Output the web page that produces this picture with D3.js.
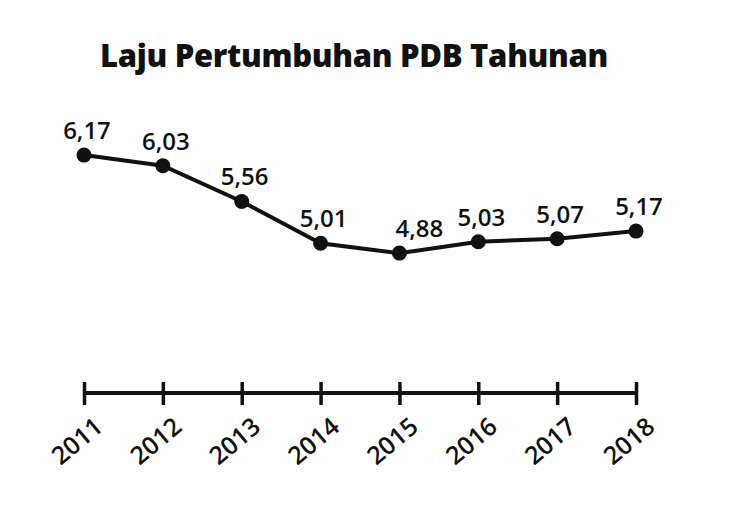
<!DOCTYPE html>
<html>
<head>
<meta charset="utf-8">
<script src="https://cdn.jsdelivr.net/npm/d3@7"></script>
<style>
  body { margin: 0; background: #fff; }
  text { font-family: "Open Sans", sans-serif; fill: #111; }
</style>
</head>
<body>
<div id="chart"></div>
<script>
const width = 742;
const height = 531;

const years = [2011, 2012, 2013, 2014, 2015, 2016, 2017, 2018];
const growth = [6.17, 6.03, 5.56, 5.01, 4.88, 5.03, 5.07, 5.17];
const labels = ['6,17', '6,03', '5,56', '5,01', '4,88', '5,03', '5,07', '5,17'];

const data = years.map((y, i) => ({ year: y, value: growth[i], label: labels[i] }));

const svg = d3.select('#chart')
  .append('svg')
  .attr('width', width)
  .attr('height', height);

const x = d3.scalePoint()
  .domain(years)
  .range([84, 636]);

const y = d3.scaleLinear()
  .domain([4.5, 6.5])
  .range([282, 130]);

// title
svg.append('text')
  .attr('x', 354)
  .attr('y', 67)
  .attr('text-anchor', 'middle')
  .style('font-size', '31px')
  .style('font-weight', 800)
  .style('letter-spacing', '-0.3px')
  .text('Laju Pertumbuhan PDB Tahunan');

// x axis
const axisY = 393;
const axis = svg.append('g')
  .attr('transform', `translate(0,${axisY})`)
  .call(d3.axisBottom(x).tickSize(0).tickFormat(''));
axis.select('.domain').remove();
axis.append('line')
  .attr('x1', x(years[0]))
  .attr('x2', x(years[years.length - 1]))
  .attr('stroke', '#111')
  .attr('stroke-width', 4);
axis.selectAll('.tick line')
  .attr('y1', -11)
  .attr('y2', 12)
  .attr('stroke', '#111')
  .attr('stroke-width', 3.5);
axis.selectAll('.tick').append('text')
  .attr('transform', 'translate(8,22) rotate(-40)')
  .attr('text-anchor', 'end')
  .attr('dy', '0.75em')
  .style('font-size', '25px')
  .style('font-weight', 600)
  .text(d => d);

// line
const line = d3.line()
  .x(d => x(d.year))
  .y(d => y(d.value));

svg.append('path')
  .datum(data)
  .attr('d', line)
  .attr('fill', 'none')
  .attr('stroke', '#111')
  .attr('stroke-width', 4);

svg.selectAll('.dot')
  .data(data)
  .enter()
  .append('circle')
  .attr('class', 'dot')
  .attr('cx', d => x(d.year))
  .attr('cy', d => y(d.value))
  .attr('r', 7.5)
  .attr('fill', '#111');

svg.selectAll('.val')
  .data(data)
  .enter()
  .append('text')
  .attr('class', 'val')
  .attr('x', d => x(d.year) + (d.year === 2015 ? 20 : 3))
  .attr('y', d => y(d.value) - 16)
  .attr('text-anchor', 'middle')
  .style('font-size', '24px')
  .style('font-weight', 600)
  .text(d => d.label);
</script>
</body>
</html>
